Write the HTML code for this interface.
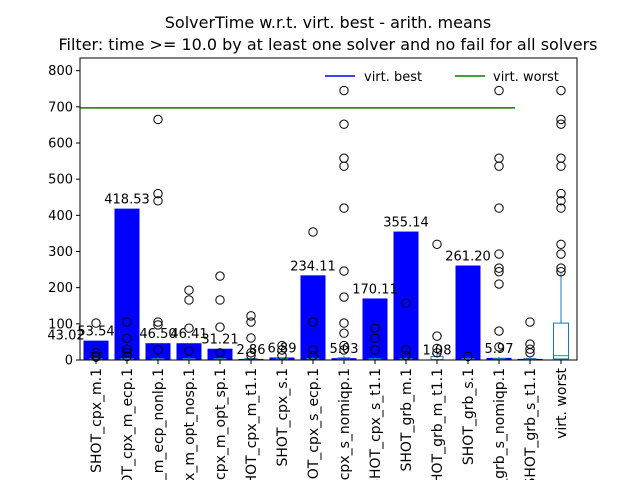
<!DOCTYPE html>
<html><head><meta charset="utf-8"><style>
body{margin:0;background:#fff;overflow:hidden;width:640px;height:480px}
svg{display:block;overflow:hidden;font-family:"DejaVu Sans","Liberation Sans",sans-serif}
</style></head><body>
<svg id="chart" width="640" height="480">
<text x="328" y="28" text-anchor="middle" font-size="16">SolverTime w.r.t. virt. best - arith. means</text>
<text x="328" y="50" text-anchor="middle" font-size="16">Filter: time &gt;= 10.0 by at least one solver and no fail for all solvers</text>
<g id="plot"></g>
</svg>
<script>
const categories=["SHOT_cpx_m.1","SHOT_cpx_m_ecp.1","SHOT_cpx_m_ecp_nonlp.1","SHOT_cpx_m_opt_nosp.1","SHOT_cpx_m_opt_sp.1","SHOT_cpx_m_t1.1","SHOT_cpx_s.1","SHOT_cpx_s_ecp.1","SHOT_cpx_s_nomiqp.1","SHOT_cpx_s_t1.1","SHOT_grb_m.1","SHOT_grb_m_t1.1","SHOT_grb_s.1","SHOT_grb_s_nomiqp.1","SHOT_grb_s_t1.1","virt. worst"];
const means=[53.54,418.53,46.50,46.41,31.21,2.86,6.89,234.11,5.03,170.11,355.14,1.08,261.20,5.97,3.0,null];
const meanLabels=["53.54","418.53","46.50","46.41","31.21","2.86","6.89","234.11","5.03","170.11","355.14","1.08","261.20","5.97","",""];
const outliers=[[102,20,12,8],[105,60,30,20,10],[665,460,440,105,97,28],[193,166,88,25],[232,166,91,20],[122,105,61,20,12],[40,28,12],[354,105,28,12],[745,652,558,536,420,246,174,102,74,40,28],[88,60,28],[157,28,12],[320,66,32,20],[10],[745,558,536,420,293,254,244,210,80,36],[105,44,30,20],[745,665,652,558,536,460,440,420,320,293,254,244]];
const boxQ1=[0.5,0.5,0.5,0.5,0.5,0.5,0.5,0.5,0.5,0.5,0.5,0.5,0.5,0.5,0.5,3];
const boxQ3=[4,4,4,4,4,4,4,4,6,4,4,10,4,4,4,102];
const boxMed=[1,1,1,1,1,1,1,1,1,1,1,1,1,1,1,12];
const boxHi=[8,8,8,8,8,8,8,8,12,8,8,18,8,8,8,240];
const yTicks=[0,100,200,300,400,500,600,700,800];
const virtWorst=697;
const extraLabel="43.02";

const NS="http://www.w3.org/2000/svg";
const L=80,R=577,T=58,B=360,YMAX=835;
const y=v=>B-v/YMAX*(B-T);
const x=i=>96+i*31;
const g=document.getElementById('plot');
function mk(t,a,p){const e=document.createElementNS(NS,t);for(const k in a)e.setAttribute(k,a[k]);(p||g).appendChild(e);return e;}

categories.forEach((c,i)=>{
  if(means[i]!=null){
    const b=mk('rect',{x:x(i)-12.5,y:y(means[i]),width:25,height:B-y(means[i]),fill:'#0000ff'});
    
    
  }
});
categories.forEach((c,i)=>{
  const cx=x(i);
  const bx=mk('rect',{x:cx-(i==15?7.5:6),y:y(boxQ3[i]),width:i==15?15:12,height:Math.max(1,y(boxQ1[i])-y(boxQ3[i])),fill:'none',stroke:'#1f77b4'});
  
  
  mk('line',{x1:cx,x2:cx,y1:y(boxQ3[i]),y2:y(boxHi[i]),stroke:'#1f77b4'});
  mk('line',{x1:cx-(i==15?7.5:6),x2:cx+(i==15?7.5:6),y1:y(boxMed[i]),y2:y(boxMed[i]),stroke:'#2ca02c'});
  outliers[i].forEach(v=>{
    const o=mk('circle',{cx:cx,cy:y(v),r:4.2,fill:'none',stroke:'#000'});
    
    
  });
  if(meanLabels[i]){
    const t=mk('text',{x:cx,y:y(means[i])-5,'text-anchor':'middle','font-size':13});
    t.textContent=meanLabels[i];
    
    
  }
  mk('line',{x1:cx,x2:cx,y1:B,y2:B+4,stroke:'#000'});
  const lt=mk('text',{transform:`translate(${cx+5},${B+8}) rotate(-90)`,'text-anchor':'end','font-size':14});
  lt.textContent=c;
  
  
});
const el=mk('text',{x:66,y:y(means[0])-1,'text-anchor':'middle','font-size':13});
el.textContent=extraLabel;


const wl=mk('line',{x1:L,x2:515,y1:y(virtWorst),y2:y(virtWorst),stroke:'#008000','stroke-width':1.5});


yTicks.forEach(v=>{
  mk('line',{x1:L-4,x2:L,y1:y(v),y2:y(v),stroke:'#000'});
  const t=mk('text',{x:L-7,y:y(v)+4.5,'text-anchor':'end','font-size':13});
  t.textContent=v;
  
  
});
const ax=mk('rect',{x:L,y:T,width:R-L,height:B-T,fill:'none',stroke:'#000'});


const lg=mk('g',{});


mk('line',{x1:325,x2:355,y1:76,y2:76,stroke:'#0000ff','stroke-width':1.5},lg);
mk('text',{x:364,y:81,'font-size':13},lg).textContent='virt. best';
mk('line',{x1:455,x2:485,y1:76,y2:76,stroke:'#008000','stroke-width':1.5},lg);
mk('text',{x:493,y:81,'font-size':13},lg).textContent='virt. worst';
</script>
</body></html>
